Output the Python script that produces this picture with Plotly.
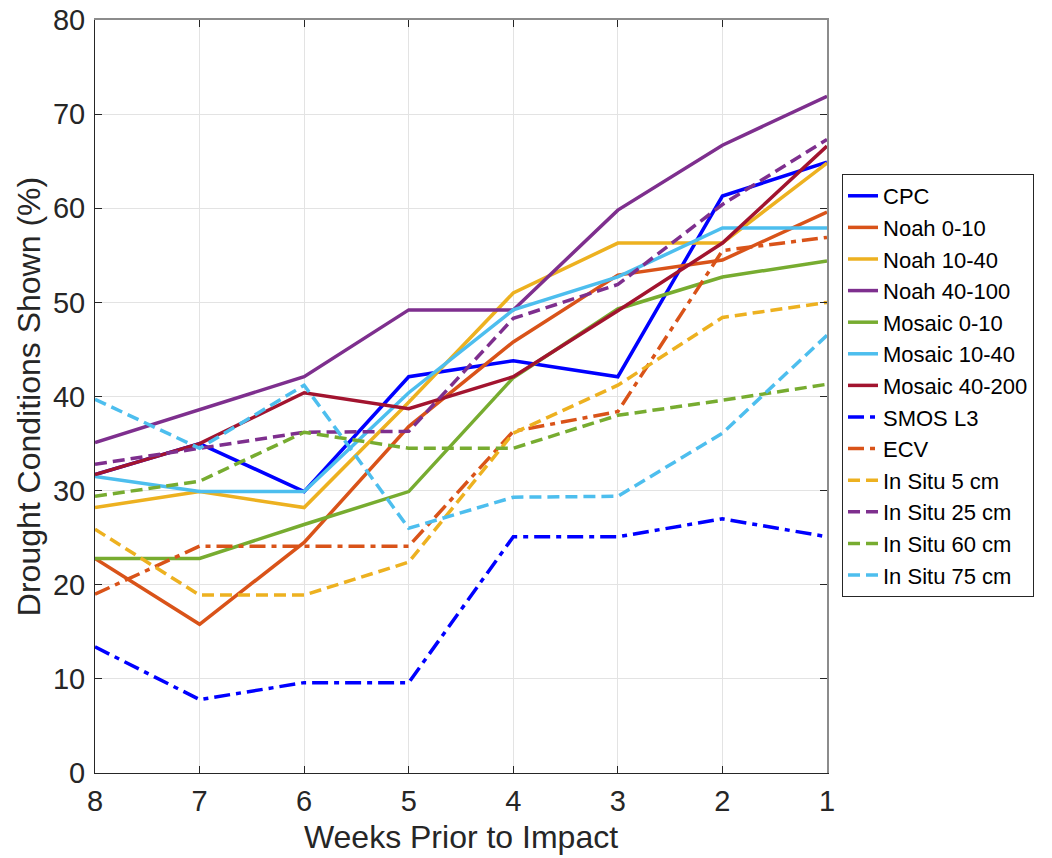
import plotly.graph_objects as go

weeks = [8, 7, 6, 5, 4, 3, 2, 1]

series_names = ["CPC", "Noah 0-10", "Noah 10-40", "Noah 40-100", "Mosaic 0-10",
                "Mosaic 10-40", "Mosaic 40-200", "SMOS L3", "ECV", "In Situ 5 cm",
                "In Situ 25 cm", "In Situ 60 cm", "In Situ 75 cm"]

cpc = [31.7, 35.0, 29.9, 42.1, 43.8, 42.1, 61.3, 64.9]
noah_0_10 = [22.8, 15.8, 24.5, 36.8, 45.8, 52.9, 54.5, 59.6]
noah_10_40 = [28.2, 29.9, 28.2, 39.4, 51.0, 56.3, 56.3, 64.8]
noah_40_100 = [35.1, 38.6, 42.1, 49.2, 49.2, 59.8, 66.7, 71.9]
mosaic_0_10 = [22.8, 22.8, 26.4, 29.9, 42.0, 49.3, 52.7, 54.4]
mosaic_10_40 = [31.5, 29.9, 29.9, 40.4, 49.2, 52.7, 57.9, 57.9]
mosaic_40_200 = [31.7, 35.0, 40.4, 38.7, 42.1, 49.1, 56.3, 66.6]
smos_l3 = [13.4, 7.8, 9.6, 9.6, 25.1, 25.1, 27.0, 25.1]
ecv = [19.0, 24.1, 24.1, 24.1, 36.3, 38.4, 55.5, 56.9]
in_situ_5 = [25.9, 18.9, 18.9, 22.4, 36.1, 41.2, 48.4, 50.0]
in_situ_25 = [32.8, 34.5, 36.2, 36.3, 48.3, 51.9, 60.4, 67.3]
in_situ_60 = [29.4, 31.0, 36.2, 34.5, 34.5, 38.0, 39.6, 41.3]
in_situ_75 = [39.7, 34.5, 41.2, 26.0, 29.3, 29.4, 36.1, 46.5]

all_values = [cpc, noah_0_10, noah_10_40, noah_40_100, mosaic_0_10, mosaic_10_40,
              mosaic_40_200, smos_l3, ecv, in_situ_5, in_situ_25, in_situ_60, in_situ_75]

colors = ["#0000FF", "#D95319", "#EDB120", "#7E2F8E", "#77AC30", "#4DBEEE", "#A2142F",
          "#0000FF", "#D95319", "#EDB120", "#7E2F8E", "#77AC30", "#4DBEEE"]
dash_dot = "16px,6px,5px,6px"
dashed = "12px,6px"
dashes = ["solid"] * 7 + [dash_dot, dash_dot, dashed, dashed, dashed, dashed]

FONT = "Liberation Sans, Arial, sans-serif"

fig = go.Figure()
for name, vals, col, d in zip(series_names, all_values, colors, dashes):
    fig.add_trace(go.Scatter(x=weeks, y=vals, mode="lines", name=name,
                             line=dict(color=col, width=3.5, dash=d)))

axis_font = dict(family=FONT, size=29, color="#262626")
common = dict(showline=True, linecolor="#262626", linewidth=1,
              ticks="inside", ticklen=7, tickcolor="#262626",
              showgrid=True, gridcolor="#e3e3e3", gridwidth=1, zeroline=False,
              automargin=False)

fig.update_layout(
    width=1052, height=858,
    margin=dict(l=95, r=225, t=20, b=85),
    paper_bgcolor="white", plot_bgcolor="white",
    font=dict(family=FONT, color="#262626"),
    showlegend=True,
    legend=dict(x=1.0205, y=0.7955, xanchor="left", yanchor="top",
                bgcolor="white", bordercolor="#262626", borderwidth=1,
                font=dict(size=22, color="black", family=FONT),
                tracegroupgap=0),
    xaxis=dict(range=[8, 1], tickmode="linear", tick0=1, dtick=1,
               tickfont=axis_font, ticklabelstandoff=2,
               title=dict(text="Weeks Prior to Impact", font=dict(size=32, color="#262626"),
                          standoff=9),
               **common),
    yaxis=dict(range=[0, 80], tickmode="linear", tick0=0, dtick=10,
               tickfont=axis_font, ticklabelstandoff=3,
               title=dict(text="Drought Conditions Shown (%)", font=dict(size=32, color="#262626"),
                          standoff=2),
               **common),
    xaxis2=dict(overlaying="x", matches="x", side="top", showticklabels=False,
                showline=True, linecolor="#8c8c8c", linewidth=1.5, ticks="inside",
                ticklen=7, tickcolor="#262626", showgrid=False, zeroline=False,
                tickmode="linear", tick0=1, dtick=1, range=[8, 1], automargin=False),
    yaxis2=dict(overlaying="y", matches="y", side="right", showticklabels=False,
                showline=True, linecolor="#8c8c8c", linewidth=1.5, ticks="inside",
                ticklen=7, tickcolor="#262626", showgrid=False, zeroline=False,
                tickmode="linear", tick0=0, dtick=10, range=[0, 80], automargin=False),
)

# invisible helper trace to activate the mirrored top/right axes
fig.add_trace(go.Scatter(x=[weeks[0]], y=[cpc[0]], xaxis="x2", yaxis="y2",
                         mode="lines", showlegend=False, hoverinfo="skip",
                         line=dict(width=0), opacity=0))

fig.write_html("out.html")
